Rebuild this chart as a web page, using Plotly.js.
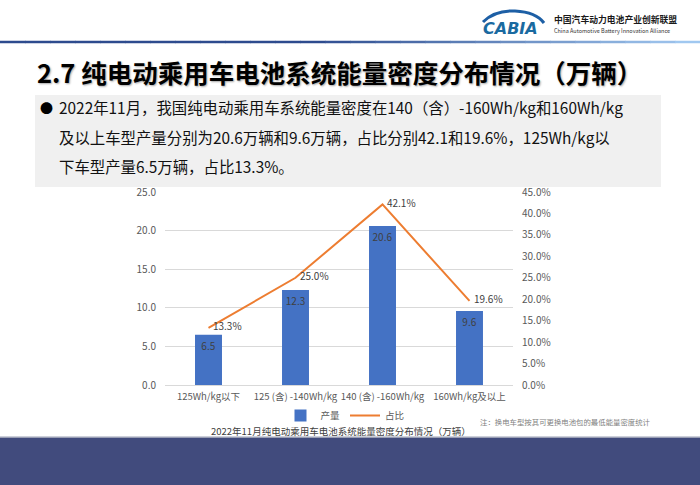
<!DOCTYPE html>
<html>
<head>
<meta charset="utf-8">
<script src="https://cdn.plot.ly/plotly-3.0.1.min.js"></script>
<style>
  html, body { margin: 0; padding: 0; background: #ffffff; }
  #chart { width: 700px; height: 485px; }
</style>
</head>
<body>
<div id="chart"></div>
<script>
// ---- data ----
const categories = ["125Wh/kg以下", "125 (含) -140Wh/kg", "140 (含) -160Wh/kg", "160Wh/kg及以上"];
const outputValues = [6.5, 12.3, 20.6, 9.6];          // 产量 (万辆)
const shareValues = [0.133, 0.250, 0.421, 0.196];      // 占比
const seriesNames = ["产量", "占比"];
const leftTicks = [0, 5, 10, 15, 20, 25];
const rightTicks = [0, 0.05, 0.10, 0.15, 0.20, 0.25, 0.30, 0.35, 0.40, 0.45];

const slideTitle = "2.7 纯电动乘用车电池系统能量密度分布情况（万辆）";
const bulletLines = [
  "2022年11月，我国纯电动乘用车系统能量密度在140（含）-160Wh/kg和160Wh/kg",
  "及以上车型产量分别为20.6万辆和9.6万辆，占比分别42.1和19.6%，125Wh/kg以",
  "下车型产量6.5万辆，占比13.3%。"
];
const chartTitle = "2022年11月纯电动乘用车电池系统能量密度分布情况（万辆）";
const noteText = "注：换电车型按其可更换电池包的最低能量密度统计";
const orgNameCn = "中国汽车动力电池产业创新联盟";
const orgNameEn = "China Automotive Battery Innovation Alliance";
const logoText = "CABIA";

// ---- helpers (pixel -> paper) ----
const W = 700, H = 485;
const px = x => x / W;
const py = y => 1 - y / H;
const FONT = "Noto Sans CJK SC, Noto Sans, sans-serif";

function hexToRgb(h) { return [1,3,5].map(i => parseInt(h.slice(i, i + 2), 16)); }
function mix(a, b, t) {
  const A = hexToRgb(a), B = hexToRgb(b);
  return "rgb(" + A.map((v, i) => Math.round(v + (B[i] - v) * t)).join(",") + ")";
}

const shapes = [];
// gray text box
shapes.push({type: "rect", xref: "paper", yref: "paper", x0: px(35), x1: px(661), y0: py(187), y1: py(95),
  fillcolor: "#f0f0f0", line: {width: 0}, layer: "below"});
// header gradient line
const segs = 28;
for (let i = 0; i < segs; i++) {
  const xa = i * W / segs, xb = (i + 1) * W / segs;
  const t = Math.max(0, (xa - 300) / 400);
  shapes.push({type: "line", xref: "paper", yref: "paper", x0: px(xa), x1: px(xb + 0.5), y0: py(42), y1: py(42),
    line: {color: mix("#2d4b8e", "#a8d0f6", t), width: 2.5}});
}
// bottom band
shapes.push({type: "rect", xref: "paper", yref: "paper", x0: 0, x1: 1, y0: 0, y1: py(438),
  fillcolor: "#414b7d", line: {width: 0}, layer: "below"});
shapes.push({type: "line", xref: "paper", yref: "paper", x0: 0, x1: 1, y0: py(437.2), y1: py(437.2),
  line: {color: "#9a9fb5", width: 1.5}});
// logo swoosh
const p = (x, y) => px(x) + "," + py(y);
shapes.push({type: "path", xref: "paper", yref: "paper",
  path: "M" + p(483, 22) + " Q" + p(495, 10) + " " + p(515, 11) + " Q" + p(536, 12) + " " + p(544, 23),
  line: {color: "#1d5fa5", width: 3}});

const annotations = [
  {text: slideTitle, x: px(35), y: py(71), xanchor: "left", yanchor: "middle",
   font: {family: FONT, size: 25.5, color: "#000000", weight: "bold", shadow: "1px 1px 2px rgba(0,0,0,0.35)"}},
  {text: "●", x: px(38), y: py(107), xanchor: "left", yanchor: "middle",
   font: {family: FONT, size: 13, color: "#000000"}},
  {text: chartTitle, x: px(341), y: py(430.5), xanchor: "center", yanchor: "middle",
   font: {family: FONT, size: 9.5, color: "#404040"}},
  {text: noteText, x: px(478), y: py(421), xanchor: "left", yanchor: "middle",
   font: {family: FONT, size: 7.4, color: "#7f7f7f"}},
  {text: logoText, x: px(481), y: py(28), xanchor: "left", yanchor: "middle",
   font: {family: "DejaVu Sans, sans-serif", size: 16, color: "#1a6aa0", weight: "bold", style: "italic"}},
  {text: orgNameCn, x: px(552), y: py(20), xanchor: "left", yanchor: "middle",
   font: {family: FONT, size: 8.8, color: "#1a1a1a", weight: "bold"}},
  {text: orgNameEn, x: px(552), y: py(31), xanchor: "left", yanchor: "middle",
   font: {family: FONT, size: 5.5, color: "#333333"}}
];
const lineYs = [107, 137, 166];
bulletLines.forEach((t, i) => annotations.push({
  text: t, x: px(57), y: py(lineYs[i]), xanchor: "left", yanchor: "middle",
  font: {family: FONT, size: 15.4, color: "#111111"}
}));
annotations.forEach(a => { a.xref = "paper"; a.yref = "paper"; a.showarrow = false; });

const traces = [
  {type: "bar", name: seriesNames[0], x: categories, y: outputValues,
   marker: {color: "#4472c4"},
   text: outputValues.map(v => v.toFixed(1)), textposition: "inside", insidetextanchor: "end",
   textangle: 0, textfont: {family: FONT, size: 10, color: "#404040"}, cliponaxis: false},
  {type: "scatter", mode: "lines+text", name: seriesNames[1], x: categories, y: shareValues, yaxis: "y2",
   line: {color: "#ed7d31", width: 2},
   text: shareValues.map(v => (v * 100).toFixed(1) + "%"), texttemplate: "  %{text}", textposition: "middle right",
   textfont: {family: FONT, size: 10, color: "#404040"}, cliponaxis: false}
];

const layout = {
  width: W, height: H,
  margin: {l: 0, r: 0, t: 0, b: 0},
  paper_bgcolor: "#ffffff", plot_bgcolor: "rgba(0,0,0,0)",
  font: {family: FONT, color: "#595959"},
  showlegend: true,
  legend: {orientation: "h", x: px(345), xanchor: "center", y: py(415.5), yanchor: "middle",
    font: {family: FONT, size: 9.5, color: "#595959"}, bgcolor: "rgba(0,0,0,0)", itemwidth: 30, tracegroupgap: 0},
  bargap: 0.69,
  xaxis: {domain: [px(165), px(513)], type: "category", showgrid: false, showline: false, zeroline: false,
    ticks: "", tickangle: 0, tickfont: {family: FONT, size: 9.5, color: "#595959"}, ticklabelstandoff: 4, fixedrange: true},
  yaxis: {domain: [1 - 385 / H, 1 - 192 / H], range: [0, 25], tickvals: leftTicks, tickformat: ".1f",
    showgrid: true, gridcolor: "#d9d9d9", gridwidth: 1, zeroline: true, zerolinecolor: "#d9d9d9", zerolinewidth: 1,
    showline: false, ticks: "", tickfont: {family: FONT, size: 10, color: "#595959"}, ticklabelstandoff: 8, fixedrange: true},
  yaxis2: {overlaying: "y", side: "right", anchor: "x", range: [0, 0.45], tickvals: rightTicks, tickformat: ".1%",
    showgrid: false, zeroline: false, showline: false, ticks: "",
    tickfont: {family: FONT, size: 10, color: "#595959"}, ticklabelstandoff: 8, fixedrange: true},
  shapes: shapes,
  annotations: annotations,
  hovermode: false
};

Plotly.newPlot("chart", traces, layout, {staticPlot: true, displayModeBar: false});
</script>
</body>
</html>
